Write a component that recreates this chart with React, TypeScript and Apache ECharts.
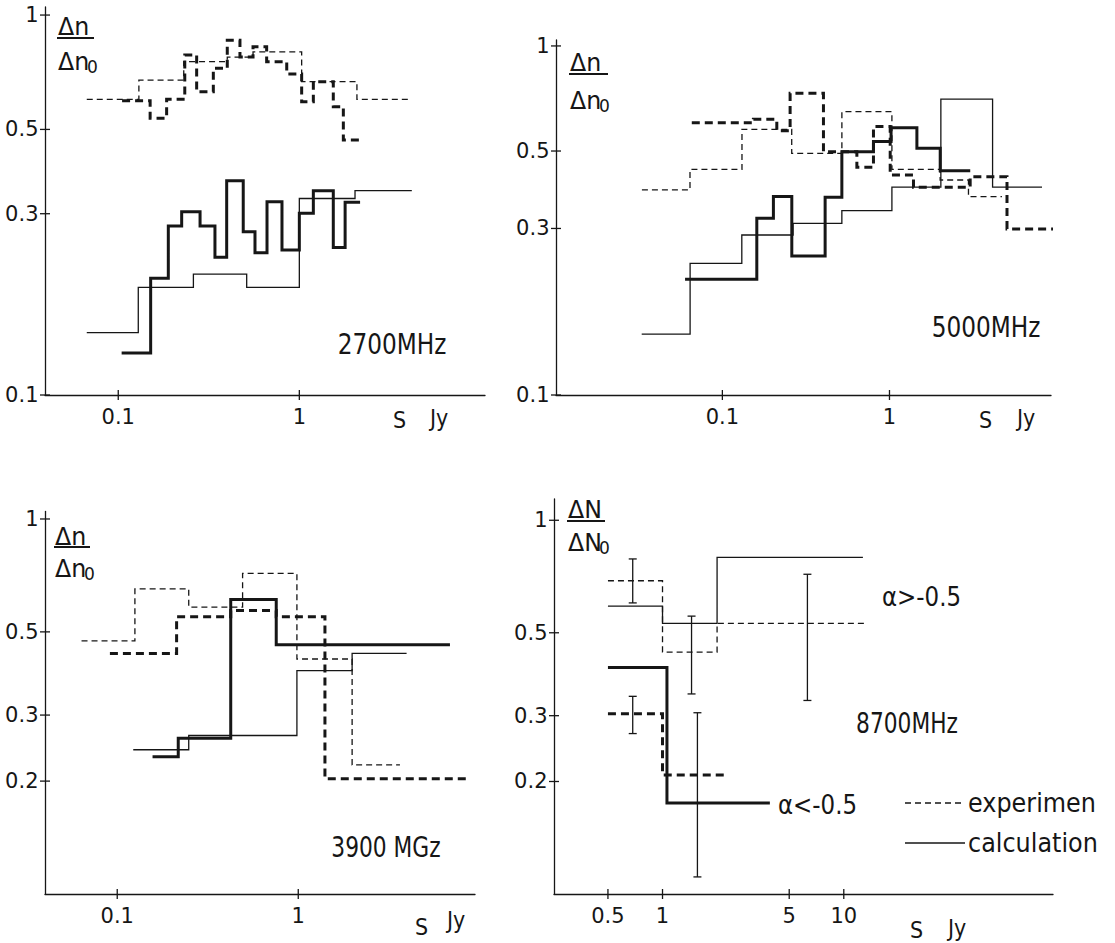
import React, { useEffect, useRef } from "react";
import * as echarts from "echarts";

// ===== Panel A: 2700 MHz (top left) =====
const aThinDashEdges = [0.067, 0.13, 0.23, 0.4, 0.555, 1.03, 2.08, 4.18];
const aThinDashVals = [0.6, 0.674, 0.754, 0.775, 0.8, 0.668, 0.6];
const aThickDashEdges = [0.105, 0.15, 0.185, 0.233, 0.271, 0.335, 0.4, 0.47, 0.555, 0.66, 0.852, 1.03, 1.195, 1.54, 1.75, 2.21];
const aThickDashVals = [0.595, 0.535, 0.6, 0.785, 0.628, 0.724, 0.859, 0.775, 0.825, 0.754, 0.7, 0.591, 0.668, 0.574, 0.469];
const aThinSolidEdges = [0.067, 0.129, 0.26, 0.512, 1.0, 2.03, 4.18];
const aThinSolidVals = [0.146, 0.192, 0.208, 0.192, 0.329, 0.345];
const aThickSolidEdges = [0.1044, 0.151, 0.189, 0.224, 0.283, 0.342, 0.397, 0.49, 0.569, 0.663, 0.802, 1.0, 1.195, 1.54, 1.79, 2.165];
const aThickSolidVals = [0.129, 0.203, 0.2785, 0.3037, 0.2785, 0.2303, 0.3664, 0.269, 0.2368, 0.3226, 0.2407, 0.3007, 0.345, 0.2446, 0.3214];

// ===== Panel B: 5000 MHz (top right) =====
const bThinDashEdges = [0.033, 0.064, 0.131, 0.26, 0.519, 1.034, 2.01, 2.97, 4.71];
const bThinDashVals = [0.387, 0.443, 0.577, 0.492, 0.648, 0.443, 0.413, 0.37];
const bThickDashEdges = [0.0656, 0.1533, 0.2117, 0.2543, 0.4026, 0.638, 0.802, 1.01, 1.392, 3.04, 5.05, 11.0];
const bThickDashVals = [0.603, 0.617, 0.572, 0.732, 0.498, 0.449, 0.588, 0.427, 0.394, 0.422, 0.299];
const bThinSolidEdges = [0.0329, 0.0641, 0.1307, 0.265, 0.5188, 1.034, 2.03, 4.14, 8.18];
const bThinSolidVals = [0.1495, 0.2384, 0.2873, 0.3104, 0.3374, 0.394, 0.704, 0.394];
const bThickSolidEdges = [0.0598, 0.1607, 0.202, 0.2603, 0.412, 0.5188, 0.802, 1.022, 1.459, 2.012, 3.043];
const bThickSolidVals = [0.2145, 0.3208, 0.3705, 0.25, 0.3685, 0.498, 0.532, 0.583, 0.509, 0.439];

// ===== Panel C: 3900 MGz (bottom left) =====
const cThinDashEdges = [0.0635, 0.1252, 0.2483, 0.4926, 0.983, 1.984, 3.645];
const cThinDashVals = [0.4734, 0.651, 0.582, 0.716, 0.4233, 0.2209];
const cThickDashEdges = [0.0911, 0.2128, 0.4236, 0.7557, 1.404, 8.51];
const cThickDashVals = [0.438, 0.549, 0.57, 0.549, 0.2029];
const cThinSolidEdges = [0.1226, 0.2483, 0.983, 1.984, 3.967];
const cThinSolidVals = [0.2425, 0.2646, 0.394, 0.438];
const cThickSolidEdges = [0.1567, 0.2173, 0.4236, 0.7557, 6.886];
const cThickSolidVals = [0.2323, 0.2603, 0.61, 0.462];

// ===== Panel D: 8700 MHz (bottom right) =====
const dHiDashEdges = [0.5, 1.0, 2.0, 13.5];
const dHiDashVals = [0.689, 0.444, 0.53];
const dHiSolidEdges = [0.5, 1.0, 2.0, 12.75];
const dHiSolidVals = [0.589, 0.53, 0.796];
const dLoDashEdges = [0.5, 1.0, 2.286];
const dLoDashVals = [0.3037, 0.2083];
const dLoSolidEdges = [0.5, 1.058, 3.91];
const dLoSolidVals = [0.404, 0.1751];
const dErrX = [0.685, 1.446, 6.3, 0.685, 1.558];
const dErrLo = [0.601, 0.343, 0.3295, 0.2687, 0.1111];
const dErrHi = [0.788, 0.554, 0.717, 0.338, 0.3055];

// ===== Tick values and labels =====
const decadeTicks = [0.1, 1];
const decadeLabels = ["0.1", "1"];
const yTicksAB = [1, 0.5, 0.3, 0.1];
const yLabelsAB = ["1", "0.5", "0.3", "0.1"];
const yTicksCD = [1, 0.5, 0.3, 0.2];
const yLabelsCD = ["1", "0.5", "0.3", "0.2"];
const xTicksD = [0.5, 1, 5, 10];
const xLabelsD = ["0.5", "1", "5", "10"];

const INK = "#161616";
const FONT = "'DejaVu Sans', 'Noto Sans', sans-serif";
const FONT_NAME = "DejaVu Sans";

function steps(edges: number[], vals: number[]): number[][] {
  const pts: number[][] = vals.map((v, i) => [edges[i], v]);
  pts.push([edges[edges.length - 1], vals[vals.length - 1]]);
  return pts;
}

function hist(grid: number, edges: number[], vals: number[], thick: boolean, dashed: boolean) {
  return {
    type: "line",
    xAxisIndex: grid,
    yAxisIndex: grid,
    data: steps(edges, vals),
    step: "end",
    symbol: "none",
    clip: false,
    silent: true,
    z: thick ? 3 : 2,
    lineStyle: {
      color: INK,
      width: thick ? 3 : 1.3,
      type: dashed ? (thick ? [8, 5] : [6, 4]) : "solid",
      cap: "butt",
      join: "miter",
    },
  };
}

function txt(text: string, x: number, y: number, size: number, align: string, sx = 1) {
  return {
    type: "text",
    x,
    y,
    scaleX: sx,
    silent: true,
    style: {
      text,
      x: 0,
      y: 0,
      fill: INK,
      font: `${size}px ${FONT}`,
      align,
      verticalAlign: "middle",
    },
  };
}

// tick marks crossing the axes (custom series, positioned by the axes' scales)
function tickMarks(grid: number, xTicks: number[], yTicks: number[], xMin: number, yMin: number) {
  const kinds: string[] = [];
  const data: number[][] = [];
  xTicks.forEach((v) => {
    kinds.push("x");
    data.push([v, yMin]);
  });
  yTicks.forEach((v) => {
    kinds.push("y");
    data.push([xMin, v]);
  });
  return {
    type: "custom",
    xAxisIndex: grid,
    yAxisIndex: grid,
    clip: false,
    silent: true,
    z: 5,
    data,
    encode: { x: 0, y: 1 },
    renderItem: (params: any, api: any) => {
      const i = params.dataIndex;
      const p = api.coord([api.value(0), api.value(1)]);
      const isX = kinds[i] === "x";
      const shape = isX
        ? { x1: p[0], y1: p[1] - 5, x2: p[0], y2: p[1] + 5 }
        : { x1: p[0] - 5, y1: p[1], x2: p[0] + 5, y2: p[1] };
      return { type: "line", shape, style: { stroke: INK, lineWidth: 1.3 } };
    },
  };
}

// tick labels as tiny transparent scatter points carrying labels
function tickLabels(grid: number, ticks: number[], labels: string[], isX: boolean, fixed: number) {
  return {
    type: "scatter",
    xAxisIndex: grid,
    yAxisIndex: grid,
    clip: false,
    silent: true,
    symbol: "circle",
    symbolSize: 1,
    itemStyle: { color: "rgba(255,255,255,0)" },
    z: 6,
    data: ticks.map((v, i) => ({
      value: isX ? [v, fixed] : [fixed, v],
      label: { formatter: labels[i] },
    })),
    label: {
      show: true,
      opacity: 1,
      position: isX ? "bottom" : "left",
      distance: isX ? 11 : 6,
      color: INK,
      fontSize: 21,
      fontFamily: FONT_NAME,
    },
  };
}

function errorSeries(grid: number) {
  const data = dErrX.map((x, i) => [x, dErrLo[i], dErrHi[i]]);
  return {
    type: "custom",
    xAxisIndex: grid,
    yAxisIndex: grid,
    clip: false,
    silent: true,
    z: 4,
    data,
    encode: { x: 0, y: [1, 2] },
    renderItem: (params: any, api: any) => {
      const lo = api.coord([api.value(0), api.value(1)]);
      const hi = api.coord([api.value(0), api.value(2)]);
      const st = { stroke: INK, lineWidth: 1.3 };
      return {
        type: "group",
        children: [
          { type: "line", shape: { x1: lo[0], y1: lo[1], x2: hi[0], y2: hi[1] }, style: st },
          { type: "line", shape: { x1: lo[0] - 4, y1: lo[1], x2: lo[0] + 4, y2: lo[1] }, style: st },
          { type: "line", shape: { x1: hi[0] - 4, y1: hi[1], x2: hi[0] + 4, y2: hi[1] }, style: st },
        ],
      };
    },
  };
}

const axisBase = {
  type: "log",
  logBase: 10,
  axisLine: { show: true, lineStyle: { color: INK, width: 1.3 } },
  axisTick: { show: false },
  axisLabel: { show: false },
  splitLine: { show: false },
  minorTick: { show: false },
  minorSplitLine: { show: false },
};

function fraction(left: number, topY: number, barY: number, botY: number, w: number, big: boolean) {
  const a = big ? "ΔN" : "Δn";
  const subX = big ? 31 : 29;
  return [
    txt(a, left, topY, 25, "left", 0.95),
    {
      type: "line",
      silent: true,
      shape: { x1: left - 1, y1: barY, x2: left + w, y2: barY },
      style: { stroke: INK, lineWidth: 2 },
    },
    txt(a, left, botY, 25, "left", 0.95),
    txt("0", left + subX, botY + 6, 18, "left", 0.95),
  ];
}

function panelTicks(grid: number, xTicks: number[], xLabels: string[], yTicks: number[], yLabels: string[], xMin: number, yMin: number) {
  return [
    tickMarks(grid, xTicks, yTicks, xMin, yMin),
    tickLabels(grid, xTicks, xLabels, true, yMin),
    tickLabels(grid, yTicks, yLabels, false, xMin),
  ];
}

export default function App() {
  const ref = useRef<HTMLDivElement>(null);

  useEffect(() => {
    if (!ref.current) return;
    const chart = echarts.init(ref.current, undefined, { renderer: "svg" });

    const grids = [
      { left: 45, top: 7, width: 440, height: 388 },
      { left: 556, top: 40, width: 495, height: 355 },
      { left: 45, top: 511.5, width: 430, height: 382.5 },
      { left: 554, top: 499, width: 499, height: 395 },
    ];
    const xr = [
      [0.0394, 10.6],
      [0.0101, 9.26],
      [0.0399, 9.47],
      [0.252, 142.6],
    ];
    const yr = [
      [0.1, 1.05],
      [0.1, 1.04],
      [0.1, 1.047],
      [0.1, 1.14],
    ];

    const option: any = {
      animation: false,
      backgroundColor: "#ffffff",
      grid: grids.map((g) => ({ ...g, containLabel: false, outerBoundsMode: "none" })),
      xAxis: grids.map((_, i) => ({
        ...axisBase,
        gridIndex: i,
        min: xr[i][0],
        max: xr[i][1],
      })),
      yAxis: grids.map((_, i) => ({
        ...axisBase,
        gridIndex: i,
        min: yr[i][0],
        max: yr[i][1],
      })),
      series: [
        hist(0, aThinDashEdges, aThinDashVals, false, true),
        hist(0, aThickDashEdges, aThickDashVals, true, true),
        hist(0, aThinSolidEdges, aThinSolidVals, false, false),
        hist(0, aThickSolidEdges, aThickSolidVals, true, false),
        ...panelTicks(0, decadeTicks, decadeLabels, yTicksAB, yLabelsAB, xr[0][0], yr[0][0]),

        hist(1, bThinDashEdges, bThinDashVals, false, true),
        hist(1, bThickDashEdges, bThickDashVals, true, true),
        hist(1, bThinSolidEdges, bThinSolidVals, false, false),
        hist(1, bThickSolidEdges, bThickSolidVals, true, false),
        ...panelTicks(1, decadeTicks, decadeLabels, yTicksAB, yLabelsAB, xr[1][0], yr[1][0]),

        hist(2, cThinDashEdges, cThinDashVals, false, true),
        hist(2, cThickDashEdges, cThickDashVals, true, true),
        hist(2, cThinSolidEdges, cThinSolidVals, false, false),
        hist(2, cThickSolidEdges, cThickSolidVals, true, false),
        ...panelTicks(2, decadeTicks, decadeLabels, yTicksCD, yLabelsCD, xr[2][0], yr[2][0]),

        hist(3, dHiDashEdges, dHiDashVals, false, true),
        hist(3, dHiSolidEdges, dHiSolidVals, false, false),
        hist(3, dLoDashEdges, dLoDashVals, true, true),
        hist(3, dLoSolidEdges, dLoSolidVals, true, false),
        errorSeries(3),
        ...panelTicks(3, xTicksD, xLabelsD, yTicksCD, yLabelsCD, xr[3][0], yr[3][0]),
      ],
      graphic: [
        // Panel A texts
        ...fraction(58, 26, 38, 61, 36, false),
        txt("2700MHz", 392, 344, 29, "center", 0.8),
        txt("S", 393, 420, 23, "left", 0.9),
        txt("Jy", 430, 418, 23, "left", 0.9),
        // Panel B texts
        ...fraction(570, 62, 74, 100, 38, false),
        txt("5000MHz", 986, 327, 29, "center", 0.8),
        txt("S", 979, 420, 23, "left", 0.9),
        txt("Jy", 1017, 418, 23, "left", 0.9),
        // Panel C texts
        ...fraction(55, 536, 547, 568, 35, false),
        txt("3900 MGz", 386, 847, 29, "center", 0.75),
        txt("S", 415, 927, 23, "left", 0.9),
        txt("Jy", 447, 920, 23, "left", 0.9),
        // Panel D texts
        ...fraction(568, 509, 521, 542, 37, true),
        txt("α>-0.5", 882, 597, 27, "left", 0.85),
        txt("8700MHz", 907, 723, 29, "center", 0.75),
        txt("α<-0.5", 778, 805, 27, "left", 0.85),
        {
          type: "line",
          silent: true,
          shape: { x1: 905, y1: 803, x2: 965, y2: 803 },
          style: { stroke: INK, lineWidth: 1.3, lineDash: [6, 4] },
        },
        txt("experimen", 968, 803, 26, "left", 0.92),
        {
          type: "line",
          silent: true,
          shape: { x1: 905, y1: 843, x2: 965, y2: 843 },
          style: { stroke: INK, lineWidth: 1.3 },
        },
        txt("calculation", 968, 843, 26, "left", 0.92),
        txt("S", 910, 930, 23, "left", 0.9),
        txt("Jy", 948, 928, 23, "left", 0.9),
      ],
    };

    chart.setOption(option);
    return () => {
      chart.dispose();
    };
  }, []);

  return (
    <div
      ref={ref}
      style={{
        position: "absolute",
        left: 0,
        top: 0,
        width: 1115,
        height: 943,
        background: "#ffffff",
      }}
    />
  );
}
